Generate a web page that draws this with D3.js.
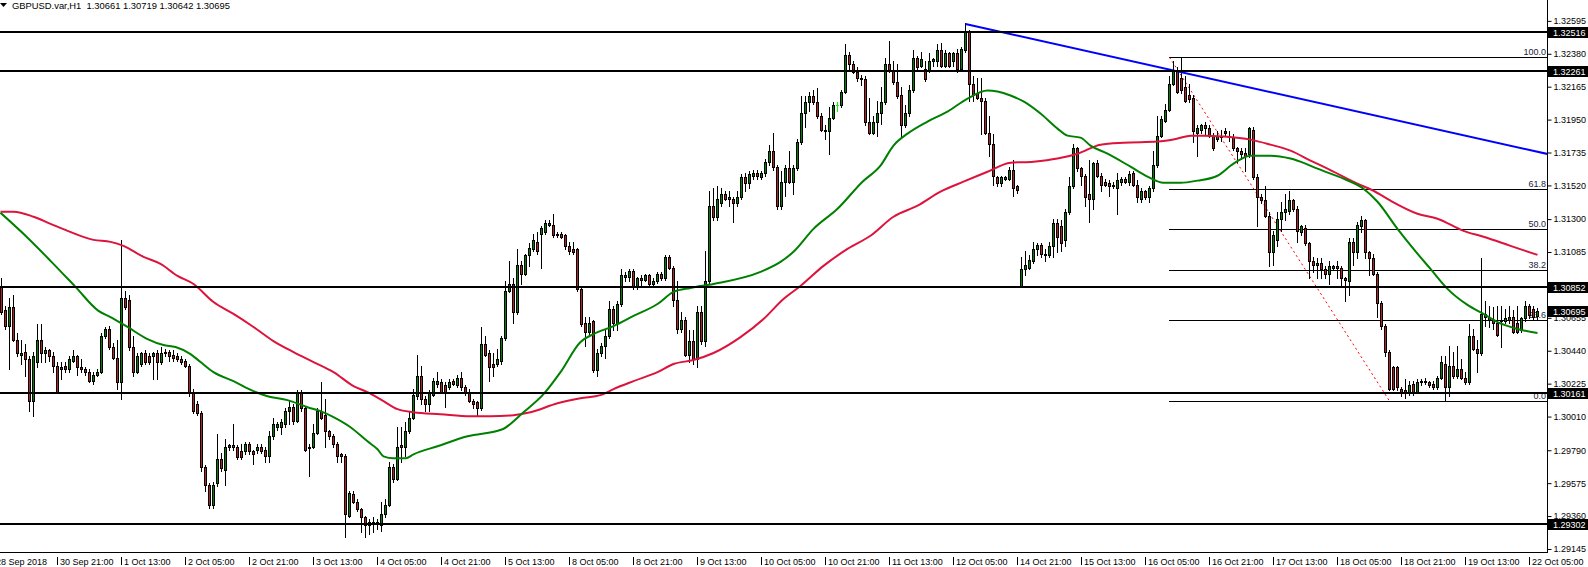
<!DOCTYPE html>
<html><head><meta charset="utf-8">
<script src="https://cdn.jsdelivr.net/npm/d3@7"></script>
<style>
html,body{margin:0;padding:0;background:#fff;overflow:hidden;}
svg{display:block;}
text{font-family:"Liberation Sans",Arial,sans-serif;font-size:9px;white-space:pre;}
</style></head><body>
<svg id="chart" width="1588" height="567"></svg>
<script>
const symbolTitle = "GBPUSD.var,H1";
const lastQuote = [1.30661, 1.30719, 1.30642, 1.30695];

const opens = [
1.3086,1.3070,1.3060,1.3072,1.3051,1.3041,1.3043,1.3038,1.3011,1.3036,
1.3051,1.3042,1.3044,1.3040,1.3034,1.3032,1.3034,1.3032,1.3037,1.3040,
1.3033,1.3032,1.3030,1.3024,1.3028,1.3030,1.3053,1.3058,1.3046,1.3039,
1.3023,1.3078,1.3077,1.3046,1.3030,1.3035,1.3042,1.3040,1.3040,1.3042,
1.3036,1.3042,1.3043,1.3041,1.3040,1.3038,1.3037,1.3034,1.3017,1.3009,
1.3003,1.2968,1.2956,1.2943,1.2957,1.2973,1.2966,1.2981,1.2982,1.2981,
1.2978,1.2978,1.2983,1.2978,1.2979,1.2981,1.2979,1.2975,1.2988,1.2994,
1.2994,1.2996,1.3004,1.3007,1.2998,1.3017,1.3006,1.2980,1.2981,1.2990,
1.3004,1.3002,1.2991,1.2988,1.2983,1.2976,1.2975,1.2936,1.2950,1.2945,
1.2940,1.2935,1.2932,1.2931,1.2932,1.2930,1.2937,1.2943,1.2968,1.2960,
1.2982,1.2981,1.2991,1.3000,1.3014,1.3027,1.3012,1.3009,1.3015,1.3022,
1.3023,1.3021,1.3020,1.3024,1.3021,1.3026,1.3020,1.3017,1.3011,1.3010,
1.3006,1.3048,1.3042,1.3035,1.3035,1.3037,1.3052,1.3083,1.3087,1.3069,
1.3100,1.3094,1.3106,1.3110,1.3115,1.3120,1.3121,1.3126,1.3126,1.3120,
1.3120,1.3119,1.3112,1.3110,1.3110,1.3084,1.3062,1.3056,1.3063,1.3031,
1.3042,1.3047,1.3053,1.3071,1.3062,1.3074,1.3092,1.3092,1.3096,1.3085,
1.3091,1.3090,1.3093,1.3087,1.3089,1.3094,1.3091,1.3105,1.3098,1.3077,
1.3058,1.3064,1.3041,1.3050,1.3038,1.3069,1.3050,1.3089,1.3138,1.3131,
1.3140,1.3146,1.3144,1.3143,1.3140,1.3144,1.3157,1.3153,1.3158,1.3160,
1.3157,1.3160,1.3167,1.3174,1.3164,1.3138,1.3154,1.3163,1.3154,1.3163,
1.3180,1.3199,1.3206,1.3210,1.3206,1.3197,1.3188,1.3187,1.3196,1.3204,
1.3204,1.3213,1.3237,1.3231,1.3226,1.3222,1.3221,1.3193,1.3186,1.3193,
1.3199,1.3206,1.3231,1.3227,1.3219,1.3211,1.3191,1.3199,1.3214,1.3235,
1.3230,1.3228,1.3227,1.3233,1.3233,1.3240,1.3230,1.3238,1.3233,1.3238,
1.3228,1.3240,1.3252,1.3218,1.3212,1.3209,1.3207,1.3186,1.3179,1.3157,
1.3153,1.3156,1.3156,1.3162,1.3151,1.3086,1.3097,1.3098,1.3102,1.3110,
1.3113,1.3107,1.3106,1.3112,1.3127,1.3125,1.3116,1.3134,1.3151,1.3176,
1.3163,1.3158,1.3146,1.3143,1.3166,1.3158,1.3154,1.3153,1.3152,1.3150,
1.3154,1.3156,1.3154,1.3160,1.3152,1.3143,1.3148,1.3144,1.3150,1.3165,
1.3184,1.3194,1.3201,1.3218,1.3227,1.3222,1.3216,1.3211,1.3209,1.3186,
1.3188,1.3191,1.3189,1.3184,1.3182,1.3184,1.3187,1.3184,1.3183,1.3176,
1.3174,1.3173,1.3172,1.3188,1.3157,1.3144,1.3142,1.3132,1.3108,1.3116,
1.3130,1.3134,1.3135,1.3142,1.3136,1.3121,1.3124,1.3114,1.3102,1.3100,
1.3101,1.3097,1.3094,1.3098,1.3099,1.3098,1.3091,1.3089,1.3115,1.3108,
1.3125,1.3129,1.3108,1.3104,1.3094,1.3075,1.3060,1.3043,1.3033,1.3033,
1.3019,1.3018,1.3017,1.3022,1.3017,1.3023,1.3024,1.3023,1.3022,1.3020,
1.3026,1.3035,1.3020,1.3034,1.3027,1.3032,1.3026,1.3023,1.3053,1.3045,
1.3042,1.3068,1.3066,1.3064,1.3062,1.3063,1.3063,1.3064,1.3066,1.3062,
1.3057,1.3065,1.3073,1.3071,1.30661];

const highs = [
1.3091,1.3073,1.3078,1.3080,1.3055,1.3051,1.3048,1.3040,1.3043,1.3061,
1.3061,1.3046,1.3045,1.3043,1.3036,1.3036,1.3036,1.3040,1.3044,1.3041,
1.3038,1.3033,1.3032,1.3030,1.3032,1.3055,1.3059,1.3060,1.3049,1.3051,
1.3116,1.3083,1.3080,1.3053,1.3042,1.3043,1.3044,1.3042,1.3043,1.3044,
1.3046,1.3045,1.3044,1.3044,1.3042,1.3040,1.3038,1.3035,1.3019,1.3011,
1.3004,1.2969,1.2957,1.2958,1.2989,1.2977,1.2986,1.2983,1.2996,1.2982,
1.2983,1.2984,1.2984,1.2979,1.2983,1.2983,1.2981,1.2991,1.3000,1.2997,
1.2999,1.3006,1.3011,1.3009,1.3018,1.3018,1.3007,1.2983,1.2996,1.3006,
1.3023,1.3012,1.2992,1.2989,1.2984,1.2977,1.2976,1.2952,1.2952,1.2947,
1.2941,1.2936,1.2934,1.2935,1.2934,1.2945,1.2947,1.2971,1.2970,1.2994,
1.2994,1.2997,1.3004,1.3019,1.3041,1.3034,1.3014,1.3018,1.3026,1.3030,
1.3025,1.3023,1.3025,1.3025,1.3028,1.3030,1.3021,1.3019,1.3012,1.3011,
1.3059,1.3053,1.3044,1.3042,1.3045,1.3053,1.3089,1.3102,1.3091,1.3110,
1.3102,1.3107,1.3114,1.3120,1.3121,1.3125,1.3129,1.3129,1.3133,1.3121,
1.3121,1.3120,1.3115,1.3115,1.3111,1.3085,1.3066,1.3066,1.3064,1.3045,
1.3049,1.3058,1.3076,1.3073,1.3076,1.3097,1.3095,1.3097,1.3097,1.3092,
1.3093,1.3094,1.3094,1.3091,1.3095,1.3095,1.3106,1.3106,1.3099,1.3089,
1.3069,1.3066,1.3057,1.3057,1.3073,1.3073,1.3109,1.3148,1.3150,1.3151,
1.3150,1.3148,1.3148,1.3144,1.3148,1.3159,1.3160,1.3161,1.3162,1.3162,
1.3161,1.3169,1.3178,1.3186,1.3165,1.3161,1.3165,1.3174,1.3165,1.3182,
1.3210,1.3210,1.3213,1.3214,1.3215,1.3199,1.3191,1.3203,1.3206,1.3206,
1.3214,1.3244,1.3239,1.3233,1.3229,1.3224,1.3223,1.3209,1.3197,1.3207,
1.3216,1.3235,1.3246,1.3233,1.3231,1.3216,1.3204,1.3217,1.3240,1.3236,
1.3239,1.3233,1.3238,1.3235,1.3244,1.3245,1.3240,1.3239,1.3239,1.3241,
1.3242,1.3258,1.3253,1.3223,1.3222,1.3222,1.3209,1.3197,1.3185,1.3158,
1.3158,1.3158,1.3164,1.3168,1.3152,1.3105,1.3109,1.3106,1.3115,1.3114,
1.3114,1.3110,1.3115,1.3130,1.3130,1.3129,1.3136,1.3157,1.3179,1.3177,
1.3164,1.3159,1.3168,1.3167,1.3168,1.3160,1.3156,1.3155,1.3154,1.3160,
1.3157,1.3157,1.3161,1.3161,1.3155,1.3150,1.3149,1.3151,1.3174,1.3197,
1.3197,1.3205,1.3223,1.3233,1.3229,1.3235,1.3223,1.3218,1.3211,1.3191,
1.3192,1.3193,1.3191,1.3186,1.3187,1.3188,1.3189,1.3187,1.3185,1.3177,
1.3176,1.3176,1.3190,1.3190,1.3159,1.3146,1.3151,1.3134,1.3122,1.3134,
1.3141,1.3146,1.3148,1.3143,1.3138,1.3126,1.3126,1.3115,1.3105,1.3104,
1.3104,1.3099,1.3102,1.3100,1.3102,1.3099,1.3092,1.3117,1.3117,1.3128,
1.3132,1.3130,1.3109,1.3107,1.3095,1.3076,1.3061,1.3044,1.3034,1.3034,
1.3020,1.3025,1.3024,1.3024,1.3025,1.3025,1.3026,1.3024,1.3024,1.3027,
1.3040,1.3040,1.3047,1.3043,1.3047,1.3038,1.3030,1.3061,1.3058,1.3051,
1.3104,1.3076,1.3073,1.3072,1.3073,1.3073,1.3071,1.3073,1.3070,1.3073,
1.3066,1.3076,1.3074,1.3073,1.30719];

const lows = [
1.3068,1.3058,1.3032,1.3050,1.3040,1.3035,1.3027,1.3004,1.3001,1.3033,
1.3036,1.3036,1.3037,1.3030,1.3016,1.3025,1.3030,1.3030,1.3036,1.3028,
1.3030,1.3028,1.3023,1.3022,1.3027,1.3029,1.3052,1.3045,1.3038,1.3019,
1.3012,1.3071,1.3044,1.3027,1.3029,1.3034,1.3035,1.3035,1.3025,1.3025,
1.3035,1.3040,1.3037,1.3037,1.3037,1.3035,1.3033,1.3014,1.3003,1.3002,
1.2965,1.2952,1.2941,1.2941,1.2955,1.2965,1.2956,1.2979,1.2979,1.2973,
1.2973,1.2976,1.2976,1.2970,1.2977,1.2977,1.2971,1.2971,1.2986,1.2992,
1.2989,1.2994,1.2996,1.2996,1.2997,1.3004,1.2978,1.2962,1.2980,1.2989,
1.2999,1.2981,1.2986,1.2981,1.2971,1.2971,1.2922,1.2935,1.2944,1.2939,
1.2925,1.2922,1.2924,1.2925,1.2927,1.2926,1.2935,1.2942,1.2958,1.2959,
1.2971,1.2975,1.2990,1.2999,1.3012,1.3009,1.3004,1.3004,1.3014,1.3020,
1.3016,1.3007,1.3019,1.3021,1.3020,1.3018,1.3015,1.3010,1.3006,1.3002,
1.3005,1.3040,1.3024,1.3027,1.3034,1.3035,1.3051,1.3082,1.3062,1.3068,
1.3087,1.3093,1.3099,1.3109,1.3107,1.3098,1.3120,1.3125,1.3118,1.3118,
1.3117,1.3110,1.3107,1.3107,1.3083,1.3060,1.3047,1.3054,1.3030,1.3027,
1.3040,1.3039,1.3052,1.3057,1.3057,1.3073,1.3089,1.3089,1.3084,1.3084,
1.3086,1.3089,1.3086,1.3086,1.3088,1.3090,1.3090,1.3097,1.3073,1.3055,
1.3056,1.3040,1.3036,1.3035,1.3033,1.3048,1.3047,1.3088,1.3129,1.3129,
1.3138,1.3142,1.3138,1.3128,1.3138,1.3143,1.3148,1.3150,1.3156,1.3156,
1.3156,1.3158,1.3165,1.3162,1.3136,1.3136,1.3145,1.3153,1.3146,1.3162,
1.3179,1.3190,1.3200,1.3205,1.3196,1.3187,1.3182,1.3172,1.3195,1.3200,
1.3203,1.3212,1.3227,1.3225,1.3220,1.3217,1.3191,1.3185,1.3185,1.3184,
1.3192,1.3205,1.3226,1.3218,1.3209,1.3183,1.3190,1.3197,1.3213,1.3228,
1.3229,1.3220,1.3226,1.3230,1.3230,1.3229,1.3229,1.3229,1.3230,1.3226,
1.3227,1.3239,1.3207,1.3207,1.3208,1.3185,1.3185,1.3171,1.3152,1.3151,
1.3151,1.3155,1.3155,1.3145,1.3147,1.3085,1.3093,1.3097,1.3101,1.3106,
1.3105,1.3102,1.3105,1.3105,1.3108,1.3109,1.3112,1.3133,1.3150,1.3161,
1.3152,1.3138,1.3128,1.3136,1.3157,1.3148,1.3151,1.3145,1.3150,1.3133,
1.3152,1.3153,1.3152,1.3151,1.3141,1.3141,1.3143,1.3141,1.3148,1.3164,
1.3183,1.3193,1.3200,1.3217,1.3212,1.3212,1.3206,1.3206,1.3180,1.3171,
1.3186,1.3185,1.3183,1.3175,1.3181,1.3181,1.3184,1.3181,1.3175,1.3167,
1.3169,1.3161,1.3170,1.3156,1.3125,1.3140,1.3131,1.3099,1.3100,1.3112,
1.3122,1.3129,1.3133,1.3135,1.3115,1.3119,1.3113,1.3091,1.3095,1.3091,
1.3091,1.3091,1.3087,1.3097,1.3091,1.3086,1.3076,1.3080,1.3100,1.3104,
1.3121,1.3104,1.3093,1.3093,1.3066,1.3058,1.3040,1.3018,1.3018,1.3018,
1.3014,1.3013,1.3015,1.3015,1.3016,1.3021,1.3022,1.3020,1.3019,1.3019,
1.3025,1.3011,1.3014,1.3026,1.3026,1.3025,1.3022,1.3022,1.3044,1.3030,
1.3041,1.3060,1.3059,1.3058,1.3053,1.3046,1.3062,1.3062,1.3055,1.3055,
1.3056,1.3063,1.3065,1.3064,1.30642];

const closes = [
1.3069,1.3060,1.3072,1.3051,1.3042,1.3042,1.3038,1.3011,1.3040,1.3051,
1.3042,1.3044,1.3040,1.3034,1.3017,1.3033,1.3032,1.3038,1.3040,1.3033,
1.3032,1.3030,1.3024,1.3028,1.3030,1.3053,1.3058,1.3046,1.3039,1.3023,
1.3078,1.3072,1.3046,1.3030,1.3040,1.3042,1.3036,1.3036,1.3042,1.3036,
1.3042,1.3043,1.3040,1.3039,1.3038,1.3036,1.3034,1.3017,1.3004,1.3003,
1.2968,1.2956,1.2943,1.2956,1.2973,1.2967,1.2981,1.2982,1.2981,1.2974,
1.2974,1.2983,1.2978,1.2976,1.2981,1.2978,1.2975,1.2988,1.2996,1.2996,
1.2997,1.3004,1.3007,1.2998,1.3017,1.3006,1.2979,1.2981,1.2990,1.3004,
1.3000,1.2991,1.2988,1.2983,1.2975,1.2975,1.2937,1.2951,1.2945,1.2940,
1.2935,1.2930,1.2930,1.2932,1.2931,1.2937,1.2943,1.2968,1.2960,1.2981,
1.2981,1.2991,1.3000,1.3015,1.3027,1.3012,1.3009,1.3017,1.3024,1.3024,
1.3017,1.3017,1.3023,1.3022,1.3026,1.3020,1.3017,1.3011,1.3009,1.3006,
1.3048,1.3041,1.3033,1.3033,1.3038,1.3052,1.3083,1.3087,1.3069,1.3100,
1.3094,1.3106,1.3111,1.3116,1.3109,1.3124,1.3127,1.3127,1.3119,1.3119,
1.3118,1.3112,1.3109,1.3108,1.3084,1.3061,1.3056,1.3062,1.3031,1.3042,
1.3047,1.3053,1.3071,1.3062,1.3074,1.3093,1.3093,1.3096,1.3085,1.3091,
1.3090,1.3093,1.3087,1.3089,1.3094,1.3091,1.3105,1.3098,1.3077,1.3058,
1.3064,1.3041,1.3050,1.3038,1.3069,1.3050,1.3089,1.3138,1.3131,1.3143,
1.3146,1.3143,1.3143,1.3140,1.3144,1.3157,1.3153,1.3159,1.3160,1.3158,
1.3160,1.3167,1.3174,1.3164,1.3138,1.3154,1.3163,1.3154,1.3163,1.3180,
1.3199,1.3206,1.3210,1.3206,1.3197,1.3188,1.3187,1.3196,1.3204,1.3204,
1.3213,1.3237,1.3231,1.3226,1.3222,1.3221,1.3193,1.3186,1.3193,1.3199,
1.3206,1.3231,1.3227,1.3219,1.3210,1.3191,1.3199,1.3214,1.3235,1.3229,
1.3234,1.3221,1.3233,1.3234,1.3240,1.3230,1.3238,1.3230,1.3238,1.3228,
1.3241,1.3252,1.3218,1.3211,1.3209,1.3207,1.3186,1.3179,1.3158,1.3153,
1.3157,1.3157,1.3162,1.3150,1.3149,1.3097,1.3100,1.3103,1.3110,1.3113,
1.3107,1.3106,1.3112,1.3127,1.3118,1.3114,1.3134,1.3151,1.3176,1.3163,
1.3158,1.3144,1.3143,1.3166,1.3158,1.3152,1.3152,1.3151,1.3151,1.3155,
1.3156,1.3154,1.3159,1.3152,1.3144,1.3148,1.3144,1.3150,1.3165,1.3184,
1.3195,1.3201,1.3218,1.3227,1.3213,1.3214,1.3207,1.3208,1.3187,1.3189,
1.3191,1.3189,1.3184,1.3176,1.3184,1.3183,1.3186,1.3183,1.3176,1.3174,
1.3172,1.3171,1.3189,1.3157,1.3144,1.3142,1.3132,1.3108,1.3119,1.3130,
1.3134,1.3136,1.3142,1.3136,1.3122,1.3125,1.3114,1.3102,1.3100,1.3101,
1.3097,1.3094,1.3099,1.3099,1.3098,1.3091,1.3090,1.3115,1.3108,1.3126,
1.3129,1.3108,1.3104,1.3094,1.3075,1.3060,1.3043,1.3019,1.3019,1.3020,
1.3017,1.3016,1.3021,1.3017,1.3023,1.3024,1.3023,1.3021,1.3020,1.3026,
1.3036,1.3020,1.3034,1.3027,1.3032,1.3026,1.3023,1.3053,1.3045,1.3042,
1.3068,1.3066,1.3064,1.3062,1.3054,1.3064,1.3065,1.3066,1.3056,1.3056,
1.3065,1.3073,1.3067,1.3066,1.30695];

// moving averages: [bar index, price]
const greenMA = [[-0.25,1.31338],[6,1.31188],[12.25,1.31024],[18.5,1.30854],[24.25,1.30697],[27.25,1.30657],[31.5,1.30592],[36.5,1.30513],[40.5,1.30474],[43.5,1.30461],[47.25,1.30415],[49.75,1.30363],[53,1.30297],[58,1.30238],[63,1.30173],[66.5,1.30140],[71.5,1.30114],[76.5,1.30068],[79.75,1.30042],[83,1.30003],[87.25,1.29937],[91.5,1.29845],[94,1.29793],[95.5,1.29747],[98,1.29734],[101,1.29734],[103,1.29760],[109,1.29813],[116.5,1.29878],[125.25,1.29924],[130.5,1.30035],[135.5,1.30153],[139.75,1.30297],[144.75,1.30494],[148,1.30546],[153,1.30598],[158,1.30664],[164,1.30742],[168,1.30821],[172.25,1.30847],[178,1.30873],[189.75,1.30952],[194.75,1.31017],[198,1.31083],[203,1.31233],[209,1.31364],[215.25,1.31541],[219.75,1.31646],[223,1.31777],[226.5,1.31855],[231.5,1.31934],[236.5,1.31999],[241.5,1.32084],[246.5,1.32137],[249,1.32130],[252.25,1.32104],[255.5,1.32065],[259.75,1.31986],[264,1.31888],[266.5,1.31842],[269.75,1.31829],[272.25,1.31777],[276.5,1.31724],[282.25,1.31639],[286.5,1.31574],[290.5,1.31534],[294.75,1.31534],[299,1.31548],[304,1.31580],[308,1.31659],[312.25,1.31711],[317.25,1.31711],[322.25,1.31692],[326,1.31659],[329,1.31626],[335.5,1.31561],[340.5,1.31495],[344,1.31410],[349,1.31233],[353,1.31102],[357.25,1.30971],[361.5,1.30841],[366.5,1.30736],[370.5,1.30677],[374,1.30624],[379,1.30579],[384,1.30552]];
const redMA = [[-0.25,1.31345],[3,1.31345],[8,1.31312],[12.25,1.31266],[16.5,1.31220],[23,1.31161],[27.25,1.31148],[30.5,1.31122],[35.5,1.31050],[39.75,1.31004],[44,1.30926],[48,1.30873],[53,1.30755],[58,1.30677],[63,1.30592],[68,1.30500],[73,1.30428],[78,1.30363],[83,1.30297],[88,1.30206],[91.5,1.30166],[95.5,1.30107],[99,1.30055],[103,1.30035],[109.75,1.30022],[117.25,1.30009],[122.25,1.30009],[128,1.30016],[132.25,1.30035],[139,1.30094],[144.75,1.30127],[149.75,1.30147],[153,1.30186],[158,1.30238],[164,1.30297],[168,1.30350],[173,1.30376],[178,1.30422],[184.75,1.30526],[190.5,1.30644],[195.5,1.30775],[199.75,1.30860],[205.5,1.30991],[211.5,1.31102],[217.25,1.31188],[223,1.31312],[229,1.31384],[234.75,1.31476],[240.5,1.31541],[246.5,1.31606],[252.25,1.31665],[258,1.31672],[264,1.31692],[269,1.31724],[274.75,1.31783],[280.5,1.31796],[289,1.31803],[294,1.31823],[297.25,1.31842],[300.5,1.31842],[305.5,1.31836],[312.25,1.31816],[317.25,1.31783],[322.25,1.31744],[327.25,1.31679],[331.5,1.31626],[339,1.31528],[343,1.31482],[347.25,1.31417],[354,1.31332],[359,1.31299],[365.5,1.31220],[370.5,1.31181],[377.25,1.31122],[384,1.31063]];

const priceTicks = [1.32595,1.32380,1.32165,1.31950,1.31735,1.31520,1.31300,1.31085,1.30870,1.30655,1.30440,1.30225,1.30010,1.29790,1.29575,1.29360,1.29145];
const timeLabels = ["28 Sep 2018","30 Sep 21:00","1 Oct 13:00","2 Oct 05:00","2 Oct 21:00","3 Oct 13:00","4 Oct 05:00","4 Oct 21:00","5 Oct 13:00","8 Oct 05:00","8 Oct 21:00","9 Oct 13:00","10 Oct 05:00","10 Oct 21:00","11 Oct 13:00","12 Oct 05:00","14 Oct 21:00","15 Oct 13:00","16 Oct 05:00","16 Oct 21:00","17 Oct 13:00","18 Oct 05:00","18 Oct 21:00","19 Oct 13:00","22 Oct 05:00"];
const horizontalLevels = [1.32516, 1.32261, 1.30852, 1.30161, 1.29302];
const trendPoints = [[241, 1.32571], [386.5, 1.31722]];
const fibPoints = [[292, 1.32354], [347, 1.30108]];
const fibLevels = [100.0, 61.8, 50.0, 38.2, 23.6, 0.0];

// ---------- layout ----------
const plotRight = 1547, plotBottom = 552;
const bullColor = "#008000", bearColor = "#B22222", dojiColor = "#00FF00";
const svg = d3.select("#chart");
const x = d3.scaleLinear().domain([0, 384]).range([1, 1537]);
const y = d3.scaleLinear().domain([1.29122, 1.32728]).range([plotBottom, 0]);
const py = p => Math.round(y(p));
const px = i => Math.round(x(i));

svg.append("rect").attr("width",1588).attr("height",567).attr("fill","#fff");
svg.append("defs").append("clipPath").attr("id","plotClip")
  .append("rect").attr("x",0).attr("y",0).attr("width",plotRight).attr("height",plotBottom);
const plot = svg.append("g").attr("clip-path","url(#plotClip)");

// Fibonacci retracement (drawn behind the bars)
const fibHi = fibPoints[0][1], fibLo = fibPoints[1][1];
const fibG = plot.append("g");
fibG.selectAll("rect.fib").data(fibLevels).join("rect")
  .attr("x", px(fibPoints[0][0])).attr("width", plotRight - px(fibPoints[0][0]))
  .attr("y", d => py(fibLo + (fibHi - fibLo) * d / 100)).attr("height", 1)
  .attr("fill", "#000").attr("shape-rendering","crispEdges");
fibG.selectAll("text.fib").data(fibLevels).join("text")
  .attr("x", plotRight - 1).attr("y", d => py(fibLo + (fibHi - fibLo) * d / 100) - 2)
  .attr("text-anchor","end").attr("fill","#1c1c3c")
  .text(d => d.toFixed(1));
fibG.append("line")
  .attr("x1", x(fibPoints[0][0]) + 0.5).attr("y1", y(fibPoints[0][1]))
  .attr("x2", x(fibPoints[1][0]) + 0.5).attr("y2", y(fibPoints[1][1]))
  .attr("stroke","#FF0000").attr("stroke-width",1).attr("stroke-dasharray","2,3");

// candles
const idx = d3.range(closes.length);
const cg = plot.append("g").attr("shape-rendering","crispEdges");
const isDoji = i => opens[i] === closes[i];
cg.selectAll("rect.wick").data(idx).join("rect")
  .attr("x", i => px(i)).attr("width", 1)
  .attr("y", i => py(highs[i]))
  .attr("height", i => Math.max(1, py(lows[i]) - py(highs[i]) + 1))
  .attr("fill", i => isDoji(i) ? dojiColor : "#000");
const bTop = i => py(Math.max(opens[i], closes[i]));
const bBot = i => py(Math.min(opens[i], closes[i]));
cg.selectAll("rect.body").data(idx).join("rect")
  .attr("x", i => px(i) - 1).attr("width", 3)
  .attr("y", bTop)
  .attr("height", i => Math.max(1, bBot(i) - bTop(i) + 1))
  .attr("fill", i => isDoji(i) ? dojiColor : "#000");
cg.selectAll("rect.fill").data(idx.filter(i => bBot(i) - bTop(i) >= 2)).join("rect")
  .attr("x", i => px(i)).attr("width", 1)
  .attr("y", i => bTop(i) + 1)
  .attr("height", i => bBot(i) - bTop(i) - 1)
  .attr("fill", i => closes[i] > opens[i] ? bullColor : bearColor);

// moving averages
const maLine = d3.line().x(d => x(d[0]) + 0.5).y(d => y(d[1])).curve(d3.curveMonotoneX);
plot.append("path").datum(redMA).attr("d", maLine).attr("fill","none")
  .attr("stroke","#DC143C").attr("stroke-width",2);
plot.append("path").datum(greenMA).attr("d", maLine).attr("fill","none")
  .attr("stroke","#008000").attr("stroke-width",2);

// trend line
plot.append("line")
  .attr("x1", x(trendPoints[0][0]) + 0.5).attr("y1", y(trendPoints[0][1]))
  .attr("x2", x(trendPoints[1][0]) + 0.5).attr("y2", y(trendPoints[1][1]))
  .attr("stroke","#0000FF").attr("stroke-width",2);

// horizontal support / resistance lines
plot.selectAll("rect.hl").data(horizontalLevels).join("rect")
  .attr("x",0).attr("width",plotRight)
  .attr("y", d => py(d) - 1).attr("height", 2)
  .attr("fill","#000").attr("shape-rendering","crispEdges");

// ---------- axes ----------
const ax = svg.append("g").attr("shape-rendering","crispEdges");
ax.append("rect").attr("x",plotRight).attr("y",0).attr("width",1).attr("height",plotBottom+1).attr("fill","#000");
ax.append("rect").attr("x",0).attr("y",plotBottom).attr("width",plotRight+1).attr("height",1).attr("fill","#000");

const yAxis = d3.axisRight(y).tickValues(priceTicks).tickSize(4).tickPadding(2).tickFormat(d3.format(".5f"));
const yg = svg.append("g").attr("transform",`translate(${plotRight+0.5},0.5)`).call(yAxis);
yg.select(".domain").remove();
yg.selectAll("line").attr("stroke","#000");
yg.selectAll("text").attr("fill","#000").style("font-size","9px")
  .style("font-family","'Liberation Sans',Arial,sans-serif");

// time axis
const nT = timeLabels.length;
const tBar = k => 383 - 16 * (nT - 1 - k);
const tg = svg.append("g");
tg.selectAll("rect.tt").data(timeLabels).join("rect")
  .attr("x", (d,k) => px(tBar(k)) - 4).attr("width",1)
  .attr("y", plotBottom + 5).attr("height", 8).attr("fill","#000")
  .attr("shape-rendering","crispEdges");
tg.selectAll("text").data(timeLabels).join("text")
  .attr("x", (d,k) => px(tBar(k)) - 1).attr("y", 565).attr("fill","#000")
  .text(d => d);

// highlighted price labels (levels + current price)
const marks = horizontalLevels.concat([closes[closes.length - 1]]);
const mg = svg.append("g");
mg.selectAll("rect").data(marks).join("rect")
  .attr("x", plotRight + 1).attr("width", 1588 - plotRight - 1)
  .attr("y", d => py(d) - 5).attr("height", 11)
  .attr("fill","#000").attr("shape-rendering","crispEdges");
mg.selectAll("text").data(marks).join("text")
  .attr("x", plotRight + 6).attr("y", d => py(d) + 3.5)
  .attr("fill","#fff").text(d => d.toFixed(5));

// header
svg.append("path").attr("d","M0,3 L7,3 L3.5,7 Z").attr("fill","#000");
svg.append("text").attr("x",12).attr("y",8.5).attr("fill","#000").style("font-size","9.4px")
  .text(symbolTitle + "  " + lastQuote.map(v => v.toFixed(5)).join(" "));
</script>
</body></html>
